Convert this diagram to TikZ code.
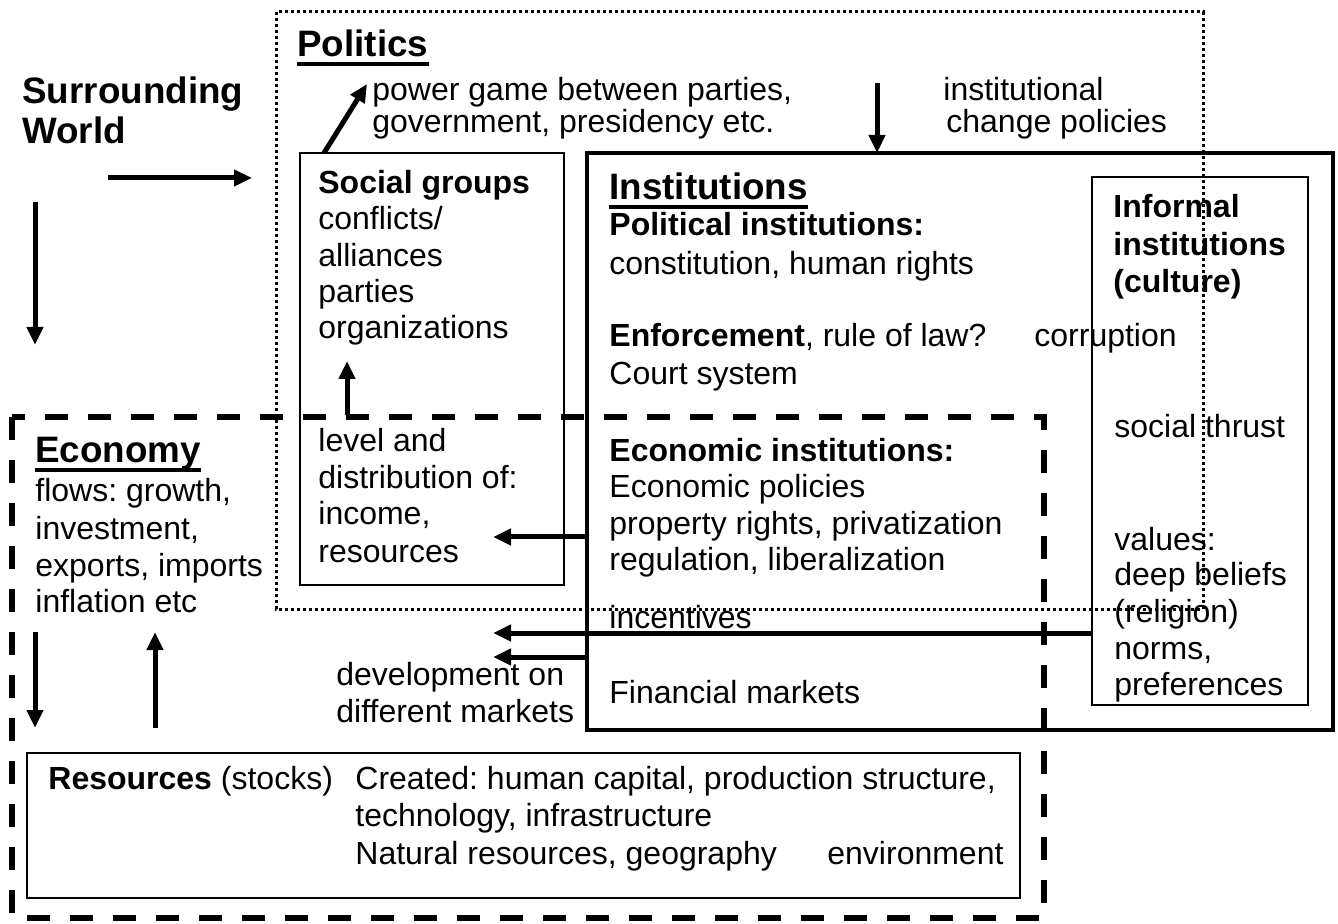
\documentclass[tikz,border=0pt]{standalone}
\usepackage{fontspec}
\setmainfont{Liberation Sans}
\usetikzlibrary{arrows.meta, positioning}
\frenchspacing

\tikzset{
  txt/.style={anchor=base west, inner sep=0pt, font=\fontsize{16}{18}\selectfont},
  btxt/.style={txt, font=\fontsize{16}{18}\selectfont\bfseries},
  hd/.style={anchor=base west, inner sep=0pt, font=\fontsize{18.4}{20}\selectfont\bfseries},
  thinbox/.style={line width=1.1pt},
  thickbox/.style={line width=2pt},
  dotbox/.style={line width=1.5pt, dash pattern=on 1.5pt off 1.5pt},
  dashbox/.style={line width=3pt, dash pattern=on 11.5pt off 10pt},
  arr/.style={line width=2.5pt, -{Triangle[length=9pt,width=8pt]}},
  uline/.style={line width=1.7pt},
}

\begin{document}
\begin{tikzpicture}[x=0.5pt,y=-0.5pt]
\useasboundingbox (0,0) rectangle (1338,924);

% corners of the boxes
\coordinate (pol-nw) at (276,12);   \coordinate (pol-se) at (1203,609);
\coordinate (soc-nw) at (300,153);  \coordinate (soc-se) at (564,585);
\coordinate (ins-nw) at (587,153);  \coordinate (ins-se) at (1333,730);
\coordinate (inf-nw) at (1092,177); \coordinate (inf-se) at (1308,705);
\coordinate (eco-nw) at (12,417);   \coordinate (eco-se) at (1044,918);
\coordinate (res-nw) at (27,753);   \coordinate (res-se) at (1020,898);

%Boxes
\draw [thinbox] (soc-nw) rectangle (soc-se);
\draw [thickbox] (ins-nw) rectangle (ins-se);
\draw [thinbox] (inf-nw) rectangle (inf-se);
\draw [thinbox] (res-nw) rectangle (res-se);
\draw [dashbox] (eco-nw) rectangle (eco-se);
\draw [dotbox] (pol-nw) rectangle (pol-se);

% Text Node
\node [hd] (sw1) at (22,104) {Surrounding};
\node [hd] (sw2) at (22,144) {World};
% Text Node
\node [hd] (pol) at (297,57) {Politics};
\draw [uline] ([yshift=-3.5pt]pol.base west) -- ([yshift=-3.5pt]pol.base east);
\node [txt] (pg1) at (372,101) {power game between parties,};
\node [txt] (pg2) at (372,133) {government, presidency etc.};
\node [txt] (ic1) at (943,101) {institutional};
\node [txt] (ic2) at (946,133) {change policies};
% Text Node
\node [btxt] (sg0) at (318,194) {Social groups};
\node [txt] (sg1) at (318,230) {conflicts/};
\node [txt] (sg2) at (318,267) {alliances};
\node [txt] (sg3) at (318,303) {parties};
\node [txt] (sg4) at (318,339) {organizations};
\node [txt] (ld1) at (318,452) {level and};
\node [txt] (ld2) at (318,489) {distribution of:};
\node [txt] (ld3) at (318,525) {income,};
\node [txt] (ld4) at (318,562) {resources};
% Text Node
\node [hd] (ins) at (609,200) {Institutions};
\draw [uline] ([yshift=-3.5pt]ins.base west) -- ([yshift=-3.5pt]ins.base east);
\node [btxt] (pi0) at (609,236) {Political institutions:};
\node [txt] (pi1) at (609,275) {constitution, human rights};
\node [txt] (enf) at (609,347) {\textbf{Enforcement}, rule of law?};
\node [txt] (corr) at (1034,347) {corruption};
\node [txt] (court) at (609,385) {Court system};
\node [btxt] (ei0) at (609,462) {Economic institutions:};
\node [txt] (ei1) at (609,498) {Economic policies};
\node [txt] (ei2) at (609,535) {property rights, privatization};
\node [txt] (ei3) at (609,570) {regulation, liberalization};
\node [txt] (inc) at (609,628) {incentives};
\node [txt] (fin) at (609,703) {Financial markets};
\node [txt] (dev1) at (336,685) {development on};
\node [txt] (dev2) at (336,722) {different markets};
% Text Node
\node [btxt] (inf1) at (1113,218) {Informal};
\node [btxt] (inf2) at (1113,256) {institutions};
\node [btxt] (inf3) at (1113,293) {(culture)};
\node [txt] (thr) at (1114,438) {social thrust};
\node [txt] (val1) at (1114,551) {values:};
\node [txt] (val2) at (1114,586) {deep beliefs};
\node [txt] (val3) at (1114,622) {(religion)};
\node [txt] (val4) at (1114,659) {norms,};
\node [txt] (val5) at (1114,695) {preferences};
% Text Node
\node [hd] (eco) at (35,463) {Economy};
\draw [uline] ([yshift=-3.5pt]eco.base west) -- ([yshift=-3.5pt]eco.base east);
\node [txt] (fl1) at (35,502) {flows: growth,};
\node [txt] (fl2) at (35,539) {investment,};
\node [txt] (fl3) at (35,576) {exports, imports};
\node [txt] (fl4) at (35,612) {inflation etc};
% Text Node
\node [txt] (res) at (48,789) {\textbf{Resources} (stocks)};
\node [txt] (cr1) at (355,789) {Created: human capital, production structure,};
\node [txt] (cr2) at (355,826) {technology, infrastructure};
\node [txt] (cr3) at (355,864) {Natural resources, geography};
\node [txt] (env) at (827,864) {environment};

% arrow ends
\coordinate (swr-a) at (108,178);  \coordinate (swr-b) at (252,178);
\coordinate (swd-a) at (35,202);   \coordinate (swd-b) at (35,345);
\coordinate (pg-a) at (324,153);   \coordinate (pg-b) at (367,84);
\coordinate (ic-a) at (877,83);    \coordinate (ic-b) at (877,153);
\coordinate (lv-a) at (347,415);   \coordinate (lv-b) at (347,361);
\coordinate (ei-a) at (587,537);   \coordinate (ei-b) at (493,537);
\coordinate (in-a) at (1092,633);  \coordinate (in-b) at (493,633);
\coordinate (fm-a) at (587,657);   \coordinate (fm-b) at (493,657);
\coordinate (ed-a) at (35,632);    \coordinate (ed-b) at (35,728);
\coordinate (eu-a) at (155,728);   \coordinate (eu-b) at (155,632);

%Straight Lines
\draw [arr] (swr-a) -- (swr-b);
\draw [arr] (swd-a) -- (swd-b);
\draw [arr] (pg-a) -- (pg-b);
\draw [arr] (ic-a) -- (ic-b);
\draw [arr] (lv-a) -- (lv-b);
\draw [arr] (ei-a) -- (ei-b);
\draw [arr] (in-a) -- (in-b);
\draw [arr] (fm-a) -- (fm-b);
\draw [arr] (ed-a) -- (ed-b);
\draw [arr] (eu-a) -- (eu-b);

\end{tikzpicture}
\end{document}
